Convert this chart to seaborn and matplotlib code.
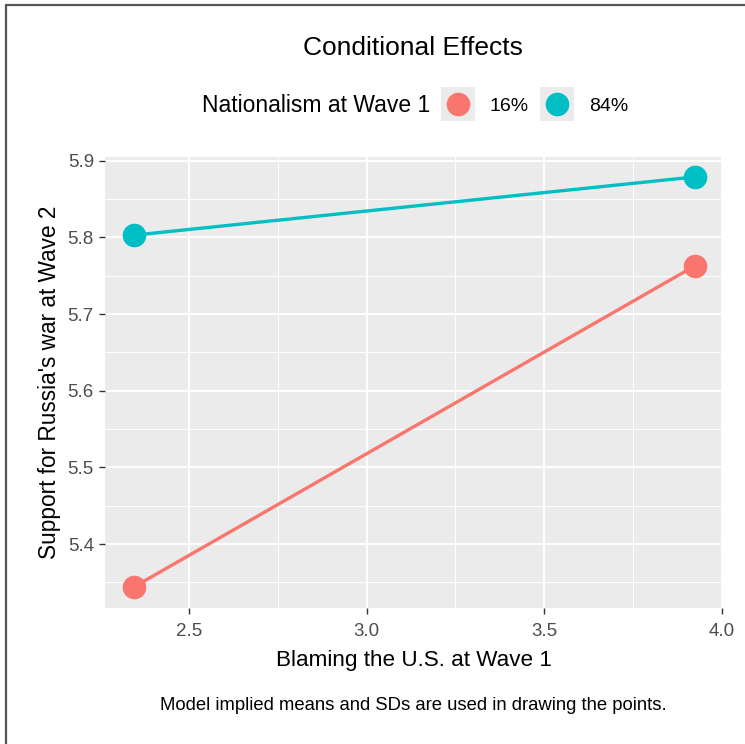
import matplotlib
matplotlib.use("Agg")
import matplotlib.pyplot as plt
from matplotlib.lines import Line2D
import seaborn as sns
import pandas as pd
import numpy as np

# Data
blame_x = [2.345, 3.924]
support_16 = [5.344, 5.763]
support_84 = [5.803, 5.879]
groups = ["16%", "84%"]
colors = ["#F8766D", "#00BFC4"]

df = pd.DataFrame({
    "x": blame_x + blame_x,
    "y": support_16 + support_84,
    "g": [groups[0]] * 2 + [groups[1]] * 2,
})

sns.set_theme(style="darkgrid")
plt.rcParams["font.family"] = ["Liberation Sans", "DejaVu Sans"]
plt.rcParams["text.color"] = "black"
plt.rcParams["axes.labelcolor"] = "black"

W, H = 745, 744
fig = plt.figure(figsize=(W / 100, H / 100), dpi=100)
left, right, top, bottom = 105, 723, 157, 608
ax = fig.add_axes([left / W, 1 - bottom / H, (right - left) / W, (bottom - top) / H])
ax.set_facecolor("#EBEBEB")

sns.lineplot(data=df, x="x", y="y", hue="g", palette=dict(zip(groups, colors)),
             marker="o", markersize=17, markeredgewidth=0, linewidth=2.4,
             legend=False, ax=ax)

ax.set_xlim(2.2636, 4.003)
ax.set_ylim(5.3165, 5.905)
ax.set_xticks([2.5, 3.0, 3.5, 4.0])
ax.set_xticklabels(["2.5", "3.0", "3.5", "4.0"])
ax.set_yticks([5.4, 5.5, 5.6, 5.7, 5.8, 5.9])
ax.set_yticklabels(["5.4", "5.5", "5.6", "5.7", "5.8", "5.9"])
ax.set_xticks([2.75, 3.25, 3.75], minor=True)
ax.set_yticks([5.35, 5.45, 5.55, 5.65, 5.75, 5.85], minor=True)
ax.grid(which="major", color="white", linewidth=1.4)
ax.grid(which="minor", color="white", linewidth=0.7)
ax.set_axisbelow(True)
for s in ax.spines.values():
    s.set_visible(False)
ax.tick_params(which="major", length=4, width=1.0, color="#333333",
               labelsize=13.5, labelcolor="#4D4D4D", pad=4, bottom=True, left=True)
ax.tick_params(axis="x", which="major", pad=7)
ax.tick_params(which="minor", length=0)

ax.set_xlabel("Blaming the U.S. at Wave 1", fontsize=16.2, color="black", labelpad=7)
ax.set_ylabel("Support for Russia's war at Wave 2", fontsize=16.3, color="black", labelpad=5)

fig.text(413 / W, 1 - 48 / H, "Conditional Effects", fontsize=19, ha="center", va="center",
         color="black")
fig.text(430 / W, 1 - 106 / H, "Nationalism at Wave 1", fontsize=16.5, ha="right", va="center",
         color="black")

handles = []
for c in colors:
    bg = Line2D([], [], marker="s", markersize=25, markerfacecolor="#EBEBEB",
                markeredgewidth=0, linestyle="none")
    dot = Line2D([], [], marker="o", markersize=17, markerfacecolor=c,
                 markeredgewidth=0, linestyle="none")
    handles.append((bg, dot))
leg = fig.legend(handles=handles, labels=groups, loc="center left",
                 bbox_to_anchor=(441 / W, 1 - 106 / H), ncol=2, frameon=False,
                 fontsize=14, handlelength=1.75, handletextpad=0.75, columnspacing=0.6,
                 borderpad=0, borderaxespad=0)
for t in leg.get_texts():
    t.set_color("black")

fig.text(413 / W, 1 - 706 / H, "Model implied means and SDs are used in drawing the points.",
         fontsize=13.3, ha="center", va="center", color="black")

# frame lines (left and top)
fig.add_artist(Line2D([6 / W, 6 / W], [0, 1 - 4.5 / H], color="#555555", linewidth=1.6,
                      transform=fig.transFigure))
fig.add_artist(Line2D([6 / W, 1], [1 - 4.5 / H, 1 - 4.5 / H], color="#555555", linewidth=1.6,
                      transform=fig.transFigure))

fig.savefig("out.png", dpi=100, facecolor="white")
